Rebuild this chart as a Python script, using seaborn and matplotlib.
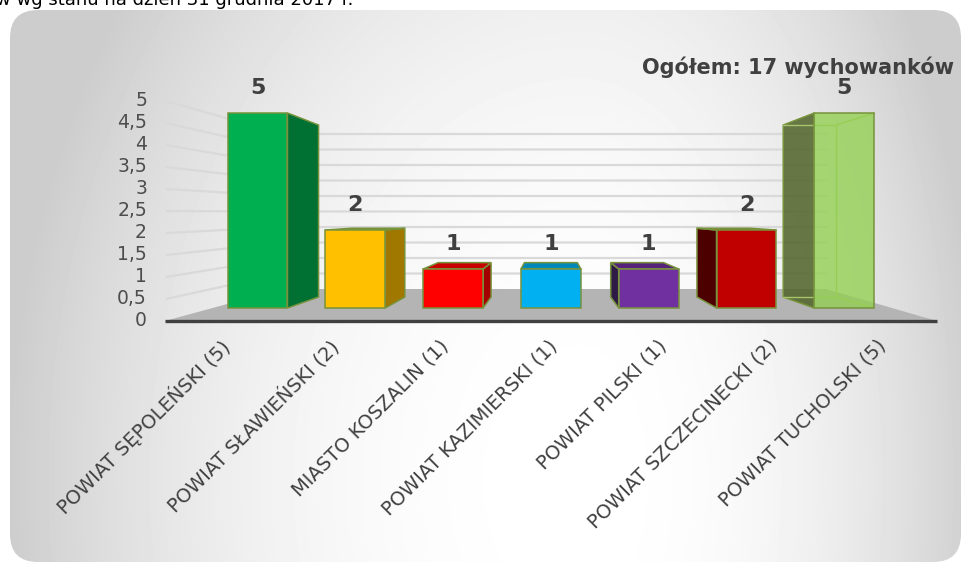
import numpy as np
import matplotlib
matplotlib.use("Agg")
import matplotlib.pyplot as plt
from matplotlib.patches import FancyBboxPatch, Polygon
from matplotlib.colors import to_rgba
import seaborn as sns

# data
categories = ["POWIAT SĘPOLEŃSKI (5)", "POWIAT SŁAWIEŃSKI (2)", "MIASTO KOSZALIN (1)",
              "POWIAT KAZIMIERSKI (1)", "POWIAT PILSKI (1)", "POWIAT SZCZECINECKI (2)",
              "POWIAT TUCHOLSKI (5)"]
values = [5, 2, 1, 1, 1, 2, 5]
front_colors = ["#00B050", "#FFC000", "#FF0000", "#00B0F0", "#7030A0", "#C00000", "#92D050"]
side_colors = ["#007033", "#A07800", "#A50000", "#0088B8", "#2E1A47", "#4D0000", "#4F6228"]
top_colors = ["#008A3E", "#C89600", "#C80000", "#0088B8", "#55237A", "#900000", "#6E8A3A"]
y_ticks = [0, 0.5, 1, 1.5, 2, 2.5, 3, 3.5, 4, 4.5, 5]
title = "Ogółem: 17 wychowanków"
caption = "w wg stanu na dzień 31 grudnia 2017 r."

sns.set_theme(style="white")
plt.rcParams["font.family"] = ["DejaVu Sans"]

W, H = 965, 563
fig = plt.figure(figsize=(W / 100, H / 100), dpi=100)
fig.patch.set_facecolor("white")

# background axes in pixel coordinates
bg = fig.add_axes([0, 0, 1, 1])
bg.set_xlim(0, W)
bg.set_ylim(H, 0)
bg.axis("off")

# rounded panel with a soft grey gradient (darker at the sides)
panel = FancyBboxPatch((10, 10), 951, 552, boxstyle="round,pad=0,rounding_size=28",
                       facecolor="none", edgecolor="none")
bg.add_patch(panel)
xx, yy = np.meshgrid(np.arange(W) + 0.5, np.arange(H) + 0.5)
cx, cy = 580, 480
dx = np.where(xx < cx, (xx - cx) / 570, (xx - cx) / 400)
dy = (yy - cy) / 480 * 0.6
d = np.clip(np.sqrt(dx ** 2 + dy ** 2), 0, 1.0)
shade = (255 - 50 * d ** 2.2) / 255
img = bg.imshow(shade, cmap="gray", vmin=0, vmax=1, extent=(0, W, H, 0), zorder=0)
img.set_clip_path(panel)

# back wall gridlines (perspective) and tick labels
for v in y_ticks:
    yl = 321 - 44 * v
    yw = 289 - 31 * v
    if v > 0:
        bg.plot([166, 282, 828], [yl, yw, yw], color="#D9D9D9", lw=1.6, zorder=1,
                solid_capstyle="butt")
    lab = f"{v:g}".replace(".", ",")
    bg.text(147, yl, lab, ha="right", va="center", fontsize=13.5, color="#4D4D4D")

# floor and front axis line
floor = Polygon([(165, 321), (282, 289), (826, 289), (937, 321)], closed=True,
                facecolor="#B4B4B4", edgecolor="none", zorder=1)
bg.add_patch(floor)
bg.plot([165, 937], [321, 321], color="#404040", lw=2.4, zorder=1.2, solid_capstyle="butt")

bg.text(798, 67, title, ha="center", va="center", fontsize=15, fontweight="bold",
        color="#404040")
bg.text(-4, 5, caption, ha="left", va="baseline", fontsize=13, color="#000000")

# bars axes: category index on x, value on y
ax = fig.add_axes([0, 0, 1, 1])
ax.patch.set_alpha(0)
sns.barplot(x=categories, y=values, hue=categories, palette=front_colors, legend=False,
            width=0.613, saturation=1, edgecolor="#77933C", linewidth=1.1, ax=ax)
ax.set_xlim(-2.6329, 7.2342)
ax.set_ylim(-6.5385, 7.8974)
ax.axis("off")

edge = "#77933C"
vx, vy, f = 3.0, 2.385, 0.118


def back(p):
    return (p[0] + f * (vx - p[0]), p[1] + f * (vy - p[1]))


bars = sorted(ax.patches, key=lambda p: p.get_x())
for i, p in enumerate(bars):
    p.set_zorder(3)
    x0, w, h = p.get_x(), p.get_width(), p.get_height()
    xc = x0 + w / 2
    fl, fr = (x0, 0), (x0 + w, 0)
    tl, tr = (x0, h), (x0 + w, h)
    last = i == len(bars) - 1
    if last:
        p.set_facecolor(to_rgba(front_colors[i], 0.78))
        # back edges seen through the transparent bar
        bts = [back(fl), back(fr), back(tr), back(tl)]
        for a, b in [(bts[0], bts[1]), (bts[1], bts[2]), (bts[2], bts[3]),
                     (fr, bts[1]), (tr, bts[2])]:
            ax.plot([a[0], b[0]], [a[1], b[1]], color="#A6C46A", lw=1.0, zorder=2.5)
    if xc < vx - 0.2:
        side = [fr, tr, back(tr), back(fr)]
    elif xc > vx + 0.2:
        side = [fl, tl, back(tl), back(fl)]
    else:
        side = None
    alpha = 0.85 if last else 1
    if side is not None:
        ax.add_patch(Polygon(side, closed=True, facecolor=to_rgba(side_colors[i], alpha),
                             edgecolor=edge, lw=1.1, zorder=2))
    if h < vy:
        top = [tl, tr, back(tr), back(tl)]
        ax.add_patch(Polygon(top, closed=True, facecolor=top_colors[i],
                             edgecolor=edge, lw=1.1, zorder=2))
    ax.text(xc, h + 0.65, f"{values[i]}", ha="center", va="center", fontsize=16,
            fontweight="bold", color="#404040", zorder=4)

# category labels along the front edge of the floor
for i, name in enumerate(categories):
    ax.text(3 + (i - 3) * 1.12 - 0.03, -0.72, name, rotation=45, rotation_mode="anchor",
            ha="right", va="top", fontsize=14, color="#404040")

fig.savefig("out.png", dpi=100)
